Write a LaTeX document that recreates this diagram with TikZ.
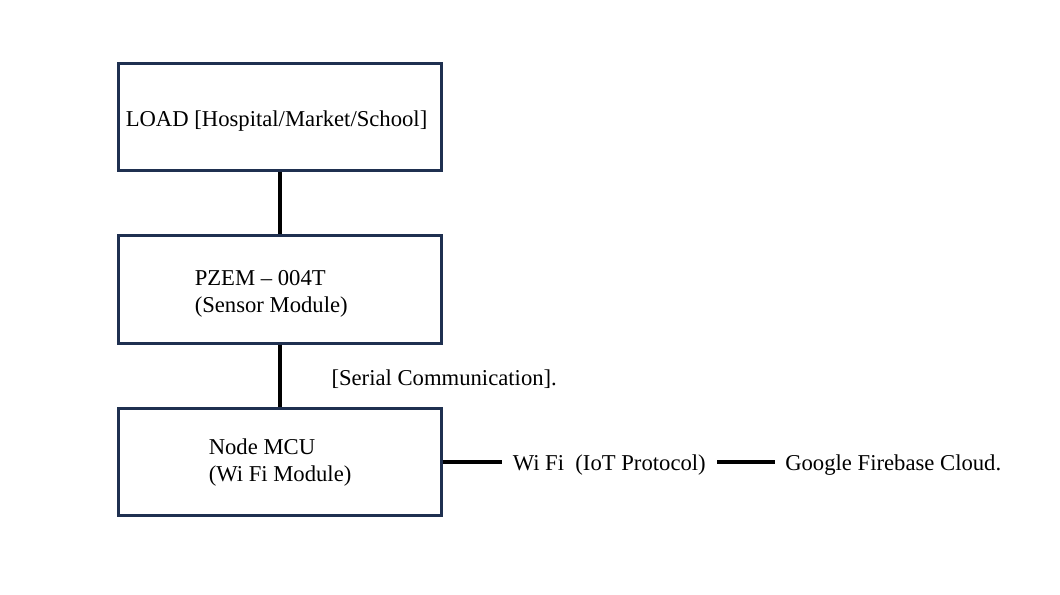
\documentclass[tikz,border=0pt]{standalone}
\usepackage{fontspec}
\setmainfont{Liberation Serif}
\usetikzlibrary{positioning}
\definecolor{boxnavy}{HTML}{1F3050}

\begin{document}
\begin{tikzpicture}[x=0.75pt,y=0.75pt,node distance=46.5pt,
    block/.style={draw=boxnavy,line width=2.25pt,minimum width=242.25pt,
      minimum height=80.25pt,inner sep=0pt},
    txt/.style={inner sep=0pt,align=left,yshift=-3pt,font=\fontsize{17}{20.25}\selectfont},
    link/.style={draw=black,line width=3pt}]
			\useasboundingbox (0,0) rectangle (1060,-595);
			\node[block] (load) at (279.5,-117.5) {};
			\node[block] (pzem) [below=of load] {};
			\node[block] (mcu) [below=of pzem] {};
			\node[txt] (loadtxt) [right=6.75pt of load.west] {LOAD [Hospital/Market/School]};
			\node[txt] (pzemtxt) [right=58.5pt of pzem.west] {PZEM \textendash{} 004T\\(Sensor Module)};
			\node[txt,yshift=2.25pt] (mcutxt) [right=69pt of mcu.west] {Node MCU\\(Wi Fi Module)};
			\node[txt,inner xsep=8.25pt] (wifi) [right=44.25pt of mcu.east] {Wi Fi\ \ (IoT Protocol)};
			\node[txt,inner xsep=7.5pt,yshift=3pt] (cloud) [right=43.5pt of wifi.east] {Google Firebase Cloud.};
			\path[link]
				(load) -- (pzem)
        (pzem) -- node[txt,right=37.5pt] {[Serial Communication].} (mcu)
        (mcu.east) -- (wifi.west |- mcu.east)
        (wifi.east |- mcu.east) -- (cloud.west |- mcu.east);
		\end{tikzpicture}
\end{document}
